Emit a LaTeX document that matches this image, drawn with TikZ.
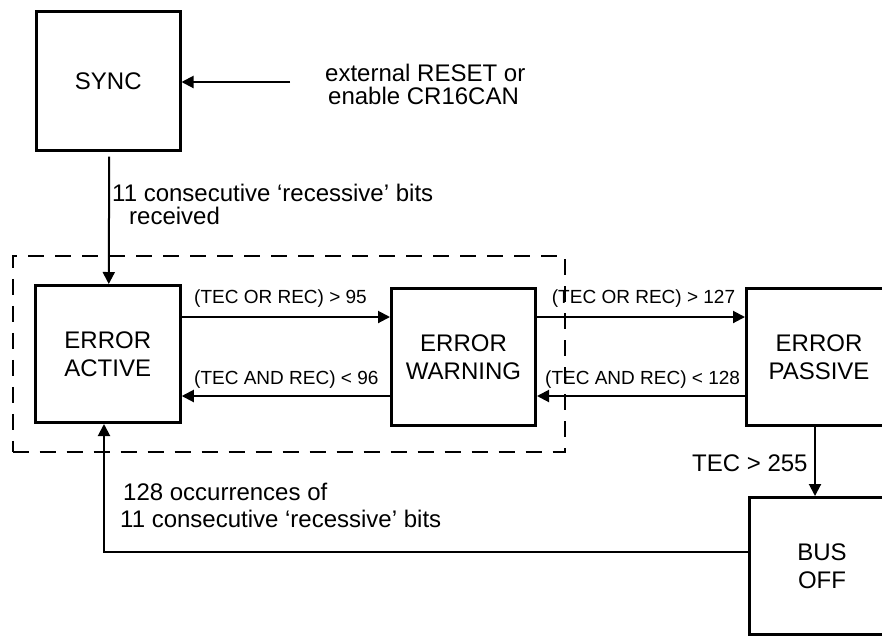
\documentclass[tikz,border=0pt]{standalone}
\usepackage{fontspec}
\setmainfont{Liberation Sans}
\usetikzlibrary{arrows.meta}
\begin{document}
\begin{tikzpicture}[x=1pt,y=-1pt,
  box/.style={draw, line width=3pt, inner sep=0pt, minimum width=145pt, minimum height=137pt, align=center, font=\fontsize{24}{28.5}\selectfont},
  lbl/.style={inner sep=0pt, anchor=base west, font=\fontsize{24}{24}\selectfont},
  slbl/.style={inner sep=0pt, anchor=base west, font=\fontsize{19}{19}\selectfont},
  arr/.style={line width=2pt, -{Triangle[length=12pt,width=12pt]}},
  grpbox/.style={draw, line width=2pt, dash pattern=on 16pt off 11pt, inner sep=0pt}]
\useasboundingbox (0,0) rectangle (882,638);
% group
\node[grpbox, minimum width=552.3pt, minimum height=195.5pt] (grp) at (288.85,353.75) {};
% states
\node[box, minimum width=143.5pt, minimum height=138.5pt] (sync) at (108.25,80.75) {SYNC};
\node[box] (ea) at (107.75,354) {ERROR\\ACTIVE};
\node[box, minimum width=144pt] (ew) at (463.5,357) {ERROR\\WARNING};
\node[box] (ep) at (819,357) {ERROR\\PASSIVE};
\node[box] (bus) at (822,566) {BUS\\OFF};
% helper coordinates
\coordinate (ext) at (290,82);
\coordinate (hi) at (0,317);
\coordinate (lo) at (0,396);
\coordinate (vx) at (815,0);
\coordinate (bl) at (0,552);
\coordinate (ux) at (104,0);
% connectors
\draw[arr] (ext) -- (ext -| sync.east);
\draw[arr, shorten <=5pt] ([xshift=1pt]sync.south) -- ([xshift=1pt]ea.north);
\draw[arr] (ea.east |- hi) -- (ew.west |- hi);
\draw[arr] (ew.west |- lo) -- (ea.east |- lo);
\draw[arr] (ew.east |- hi) -- (ep.west |- hi);
\draw[arr] (ep.west |- lo) -- (ew.east |- lo);
\draw[arr] (ep.south -| vx) -- (bus.north -| vx);
\draw[arr] (bus.west |- bl) -| (ea.south -| ux);
% labels
\node[lbl] (t1a) at (325,81.7) {external RESET or};
\node[lbl] (t1b) at (328,104) {enable CR16CAN};
\node[lbl] (t2a) at (112,201.7) {11 consecutive ‘recessive’ bits};
\node[lbl] (t2b) at (129,224) {received};
\node[slbl] (t3) at (194,303.5) {(TEC OR REC) > 95};
\node[slbl] (t4) at (194,384) {(TEC AND REC) < 96};
\node[slbl] (t5) at (551.7,303.5) {(TEC OR REC) > 127};
\node[slbl] (t6) at (545,384) {(TEC AND REC) < 128};
\node[lbl] (t7) at (692,471.7) {TEC > 255};
\node[lbl] (t8) at (123,500) {128 occurrences of};
\node[lbl] (t9) at (120,527.3) {11 consecutive ‘recessive’ bits};
\end{tikzpicture}
\end{document}
